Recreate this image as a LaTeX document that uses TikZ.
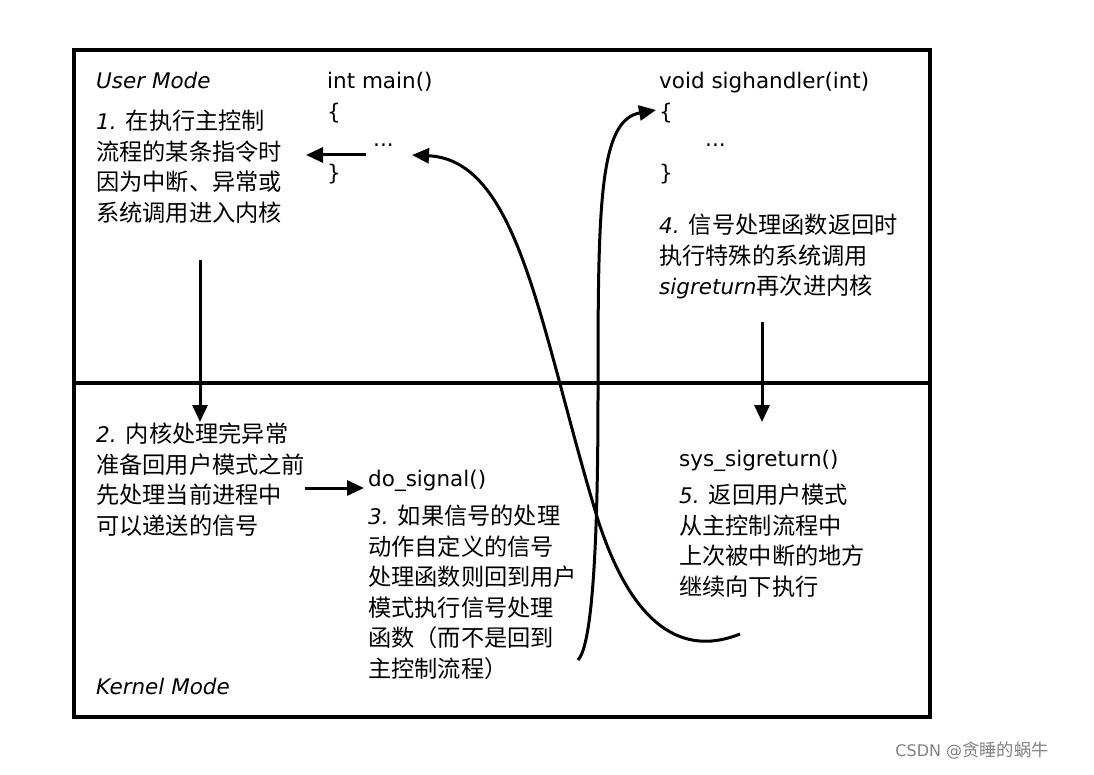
\documentclass[tikz,border=0pt]{standalone}
\usepackage{fontspec}
\setmainfont{DejaVu Sans}
\newfontfamily\cjk[Scale=1.08]{Noto Sans CJK SC}
\usetikzlibrary{arrows.meta}
\newcommand{\zh}[1]{{\cjk #1}}
\begin{document}
\begin{tikzpicture}[x=1pt,y=-1pt,
  txt/.style={anchor=north west,align=left,inner sep=0pt,font=\fontsize{21.5}{30.5}\selectfont},
  arr/.style={line width=3pt,-{Triangle[length=17pt,width=15pt]}},
  crv/.style={line width=3pt}]
\useasboundingbox (0,0) rectangle (1094,775);
\draw[line width=3.5pt] (74,50) rectangle (930,717);
\draw[line width=3.5pt] (74,383) -- (930,383);
\node[txt] (um) at (96,72) {\textit{User Mode}};
\node[txt] (km) at (96,678) {\textit{Kernel Mode}};
\node[txt] (t1) at (96,110) {\textit{1.} \zh{在执行主控制}\\\zh{流程的某条指令时}\\\zh{因为中断、异常或}\\\zh{系统调用进入内核}};
\node[txt] (main) at (327,72) {int main()\\\{\\\\\}};
\node[txt] (dots1) at (373,144) {...};
\node[txt] (sh) at (659,72) {void sighandler(int)\\\{\\\\\}};
\node[txt] (dots2) at (705,144) {...};
\node[txt] (t4) at (659,214) {\textit{4.} \zh{信号处理函数返回时}\\\zh{执行特殊的系统调用}\\\textit{sigreturn}\zh{再次进内核}};
\node[txt] (t2) at (96,423) {\textit{2.} \zh{内核处理完异常}\\\zh{准备回用户模式之前}\\\zh{先处理当前进程中}\\\zh{可以递送的信号}};
\node[txt] (ds) at (368,470) {do\_signal()};
\node[txt] (t3) at (368,505) {\textit{3.} \zh{如果信号的处理}\\\zh{动作自定义的信号}\\\zh{处理函数则回到用户}\\\zh{模式执行信号处理}\\\zh{函数（而不是回到}\\\zh{主控制流程）}};
\node[txt] (sr) at (679,450) {sys\_sigreturn()};
\node[txt] (t5) at (679,484) {\textit{5.} \zh{返回用户模式}\\\zh{从主控制流程中}\\\zh{上次被中断的地方}\\\zh{继续向下执行}};
\node[anchor=center,inner sep=0pt,text=gray,font=\fontsize{16}{18}\selectfont] (wm) at (972,751) {CSDN @\zh{贪睡的蜗牛}};
\coordinate (a1s) at (366,155); \coordinate (a1e) at (306,155);
\draw[arr] (a1s) -- (a1e);
\coordinate (a2s) at (200,260); \coordinate (a2e) at (200,422);
\draw[arr] (a2s) -- (a2e);
\coordinate (a3s) at (305,488); \coordinate (a3e) at (364,488);
\draw[arr] (a3s) -- (a3e);
\coordinate (a4s) at (762,322); \coordinate (a4e) at (762,422);
\draw[arr] (a4s) -- (a4e);
\coordinate (c1s) at (740,634); \coordinate (c1e) at (412,155);
\draw[crv,-{Triangle[length=17pt,width=15pt]}] (c1s) .. controls (700,650) and (640,650) .. (598,520)
  .. controls (540,330) and (520,160) .. (c1e);
\coordinate (c2s) at (578,660); \coordinate (c2e) at (656,110);
\draw[crv,-{Triangle[length=17pt,width=15pt]}] (c2s) .. controls (598,640) and (598,450) .. (598,383)
  .. controls (598,200) and (600,120) .. (c2e);
\end{tikzpicture}
\end{document}
